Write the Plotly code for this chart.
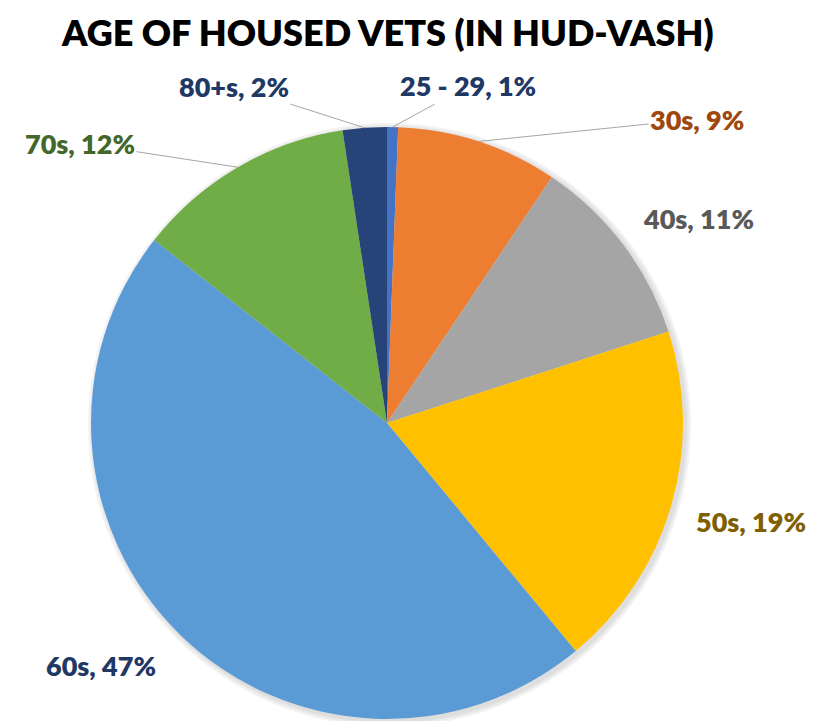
import math
import plotly.graph_objects as go

# data (share of housed vets, %)
age_groups = ["25 - 29", "30s", "40s", "50s", "60s", "70s", "80+s"]
shares = [0.6, 8.8, 10.6, 19.0, 46.6, 12.0, 2.4]

slice_colors = ["#4472C4", "#ED7D31", "#A5A5A5", "#FFC000", "#5B9BD5", "#70AD47", "#264478"]
label_colors = ["#1F3864", "#9E480E", "#595959", "#7F6000", "#1F3864", "#43682B", "#1F3864"]

# label text centres (px in the picture) and whether a leader line is drawn
label_pos = {
    "25 - 29": (468, 86, True),
    "30s": (697, 119, True),
    "40s": (698, 218, False),
    "50s": (751, 521, False),
    "60s": (101, 665, False),
    "70s": (80, 143, True),
    "80+s": (234, 86, True),
}

W, H = 823, 721
OFF = 8  # page body margin shifts the whole figure
CX, CY, R = 387 - OFF, 423 - OFF, 296


def px_x(x):
    return x / W


def px_y(y):
    return 1 - y / H


fig = go.Figure()

# soft shadow around the pie
for grow, col in [(5, "#f3f3f3"), (3, "#e9e9e9"), (1, "#dedede")]:
    fig.add_shape(type="circle", xref="paper", yref="paper", layer="below",
                  x0=px_x(CX - R - grow + 2), x1=px_x(CX + R + grow + 3),
                  y0=px_y(CY + R + grow + 3), y1=px_y(CY - R - grow + 1),
                  line=dict(width=0), fillcolor=col)

fig.add_trace(go.Pie(
    labels=age_groups,
    values=shares,
    sort=False,
    direction="clockwise",
    rotation=0,
    marker=dict(colors=slice_colors, line=dict(width=0)),
    textinfo="none",
    hoverinfo="label+percent",
    showlegend=False,
    domain=dict(x=[px_x(CX - R), px_x(CX + R)], y=[px_y(CY + R), px_y(CY - R)]),
))

total = sum(shares)
cum = 0
for name, v, col in zip(age_groups, shares, label_colors):
    mid = (cum + v / 2) / total * 2 * math.pi
    cum += v
    px = CX + R * math.sin(mid)
    py = CY - R * math.cos(mid)
    tx, ty, line = label_pos[name]
    tx, ty = tx - OFF, ty - OFF
    fig.add_annotation(
        x=px_x(px), y=px_y(py), xref="paper", yref="paper",
        ax=tx - px, ay=ty - py, axref="pixel", ayref="pixel",
        text="%s, %d%%" % (name, round(v / total * 100)),
        showarrow=True, arrowhead=0, arrowwidth=1,
        arrowcolor="#A6A6A6" if line else "rgba(0,0,0,0)",
        font=dict(family="Lato", size=27, color=col, weight=800),
    )

fig.add_annotation(
    text="AGE OF HOUSED VETS (IN HUD-VASH)",
    x=px_x(387 - OFF), y=1, xref="paper", yref="paper",
    xanchor="center", yanchor="top", showarrow=False,
    font=dict(family="Lato", size=36, color="black", weight=800),
)

fig.update_layout(
    width=W, height=H,
    margin=dict(l=0, r=0, t=0, b=0),
    paper_bgcolor="white",
    plot_bgcolor="white",
)

fig.write_html("out.html")
